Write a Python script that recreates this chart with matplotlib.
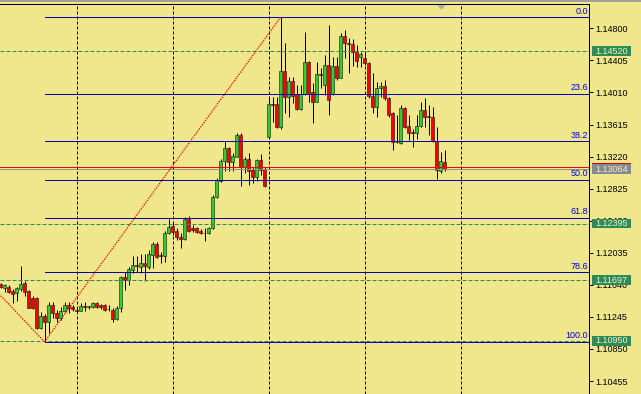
import matplotlib
matplotlib.use("Agg")
import matplotlib.pyplot as plt
import matplotlib.transforms as mtransforms
from matplotlib.patches import Rectangle

plt.rcParams['font.family'] = ['Liberation Sans', 'DejaVu Sans']

# hourly candles (index 0 = leftmost bar)
opens = [1.11656, 1.11597, 1.11617, 1.11567, 1.11535, 1.11588, 1.11658, 1.11564, 1.11474, 1.11474,
         1.11114, 1.11256, 1.11182, 1.11391, 1.11296, 1.11235, 1.11317, 1.11391, 1.11370, 1.11330,
         1.11321, 1.11373, 1.11370, 1.11363, 1.11412, 1.11387, 1.11391, 1.11342, 1.11330, 1.11219,
         1.11358, 1.11732, 1.11695, 1.11822, 1.11880, 1.11863, 1.11905, 1.11859, 1.12007, 1.12143,
         1.12003, 1.11995, 1.12274, 1.12364, 1.12306, 1.12233, 1.12201, 1.12447, 1.12336, 1.12336,
         1.12303, 1.12284, 1.12274, 1.12336, 1.12718, 1.12923, 1.13165, 1.13322, 1.13149, 1.13218,
         1.13485, 1.13095, 1.13186, 1.13054, 1.12972, 1.13178, 1.13063, 1.13465, 1.13864, 1.13867,
         1.13588, 1.14274, 1.13957, 1.14151, 1.13991, 1.13802, 1.13991, 1.14381, 1.14012, 1.13896,
         1.14233, 1.14102, 1.14348, 1.13991, 1.14336, 1.14191, 1.14705, 1.14623, 1.14607, 1.14520,
         1.14443, 1.14430, 1.14369, 1.13970, 1.13834, 1.14061, 1.14089, 1.13938, 1.13753, 1.13403,
         1.13391, 1.13814, 1.13596, 1.13526, 1.13514, 1.13596, 1.13794, 1.13720, 1.13704, 1.13412,
         1.13046, 1.13149]
highs = [1.11668, 1.11650, 1.11638, 1.11588, 1.11613, 1.11872, 1.11687, 1.11576, 1.11502, 1.11490,
         1.11305, 1.11280, 1.11428, 1.11428, 1.11330, 1.11370, 1.11428, 1.11428, 1.11391, 1.11350,
         1.11412, 1.11424, 1.11385, 1.11432, 1.11432, 1.11403, 1.11407, 1.11391, 1.11350, 1.11379,
         1.11748, 1.11798, 1.11863, 1.11995, 1.11995, 1.12019, 1.12019, 1.12069, 1.12171, 1.12171,
         1.12048, 1.12306, 1.12447, 1.12398, 1.12336, 1.12274, 1.12479, 1.12488, 1.12377, 1.12356,
         1.12324, 1.12336, 1.12356, 1.12746, 1.12952, 1.13186, 1.13415, 1.13341, 1.13267, 1.13506,
         1.13506, 1.13218, 1.13267, 1.13095, 1.13186, 1.13251, 1.13095, 1.13957, 1.13954, 1.13950,
         1.14936, 1.14615, 1.14204, 1.14204, 1.14102, 1.14102, 1.14754, 1.14397, 1.14122, 1.14389,
         1.14307, 1.14471, 1.14841, 1.14446, 1.14446, 1.14738, 1.14779, 1.14677, 1.14665, 1.14594,
         1.14512, 1.14492, 1.14385, 1.14246, 1.14142, 1.14142, 1.14163, 1.13954, 1.13769, 1.13732,
         1.13855, 1.13834, 1.13732, 1.13556, 1.13732, 1.13896, 1.13945, 1.13855, 1.13834, 1.13588,
         1.13280, 1.13301]
lows = [1.11601, 1.11551, 1.11539, 1.11419, 1.11440, 1.11564, 1.11506, 1.11354, 1.11348, 1.11095,
        1.11095, 1.10938, 1.11046, 1.11231, 1.11185, 1.11206, 1.11301, 1.11296, 1.11317, 1.11305,
        1.11317, 1.11321, 1.11342, 1.11350, 1.11350, 1.11342, 1.11321, 1.11317, 1.11185, 1.11206,
        1.11309, 1.11576, 1.11638, 1.11785, 1.11798, 1.11789, 1.11687, 1.11831, 1.11847, 1.11966,
        1.11912, 1.11925, 1.12266, 1.12254, 1.12192, 1.12097, 1.12192, 1.12294, 1.12290, 1.12282,
        1.12266, 1.12183, 1.12266, 1.12324, 1.12709, 1.12910, 1.13046, 1.13046, 1.13046, 1.13211,
        1.12857, 1.13014, 1.12870, 1.12898, 1.12923, 1.12993, 1.12849, 1.13457, 1.13649, 1.13568,
        1.13556, 1.13753, 1.13707, 1.13876, 1.13794, 1.13794, 1.13978, 1.13888, 1.13637, 1.13888,
        1.14061, 1.13978, 1.13732, 1.13978, 1.14163, 1.14184, 1.14430, 1.14253, 1.14336, 1.14327,
        1.14327, 1.14348, 1.13938, 1.13753, 1.13704, 1.13957, 1.13917, 1.13711, 1.13301, 1.13383,
        1.13375, 1.13568, 1.13424, 1.13341, 1.13436, 1.13588, 1.13588, 1.13485, 1.13403, 1.12940,
        1.13021, 1.13046]
closes = [1.11613, 1.11638, 1.11555, 1.11523, 1.11597, 1.11650, 1.11555, 1.11358, 1.11358, 1.11111,
          1.11256, 1.11176, 1.11391, 1.11289, 1.11235, 1.11317, 1.11391, 1.11350, 1.11342, 1.11323,
          1.11379, 1.11370, 1.11375, 1.11412, 1.11370, 1.11370, 1.11330, 1.11348, 1.11219, 1.11358,
          1.11732, 1.11695, 1.11831, 1.11884, 1.11872, 1.11912, 1.11872, 1.12019, 1.12143, 1.11986,
          1.11991, 1.12282, 1.12356, 1.12294, 1.12225, 1.12201, 1.12447, 1.12306, 1.12311, 1.12294,
          1.12274, 1.12278, 1.12336, 1.12725, 1.12931, 1.13165, 1.13322, 1.13157, 1.13227, 1.13485,
          1.13095, 1.13186, 1.13046, 1.12972, 1.13178, 1.13054, 1.12857, 1.13864, 1.13855, 1.13588,
          1.14274, 1.13957, 1.14151, 1.13970, 1.13802, 1.13991, 1.14381, 1.13991, 1.13896, 1.14237,
          1.14225, 1.14348, 1.13917, 1.14336, 1.14188, 1.14705, 1.14615, 1.14603, 1.14504, 1.14401,
          1.14483, 1.14369, 1.13970, 1.13834, 1.14061, 1.14089, 1.13938, 1.13732, 1.13403, 1.13396,
          1.13814, 1.13588, 1.13506, 1.13506, 1.13596, 1.13794, 1.13711, 1.13711, 1.13412, 1.13054,
          1.13165, 1.13064]

# fibonacci retracement anchored low (bar 11) -> high (bar 70)
fib_low_bar, fib_high_bar = 11, 70
fib_low, fib_high = 1.10938, 1.14936
fib_ratios = [0.0, 23.6, 38.2, 50.0, 61.8, 78.6, 100.0]
prev_trend = ([-1, 11], [1.11560, 1.10938])

level_lines = [1.14520, 1.12395, 1.11697, 1.10950]
bid, ask = 1.13064, 1.13088
day_starts = [19, 43, 67, 91, 115]
shift_bar = 110.1

y_ticks = [1.14800, 1.14405, 1.14010, 1.13615, 1.13220, 1.12825,
           1.12430, 1.12035, 1.11640, 1.11245, 1.10850, 1.10455]

BG = '#F0E68C'
BULL = '#32CD32'
BEAR = '#FF0000'
FIB = '#0000B4'
LEVEL = '#2E8B57'
PX = 0.72  # one pixel in points at dpi 100

W, H = 641, 394
fig = plt.figure(figsize=(W / 100, H / 100), dpi=100, facecolor=BG)
ax = fig.add_axes([0, 0, 589 / W, (H - 4.3) / H])
ax.set_facecolor(BG)
ax.set_xlim(-0.125, 147.125)
ax.set_ylim(1.10295, 1.15096)
px_price = (1.15096 - 1.10295) / (H - 4.3)

# thin grey strip at the very top of the window
fig.patches.append(Rectangle((0, 1 - 1.7 / H), 1, 1.7 / H, transform=fig.transFigure,
                             facecolor='#A0A0A0', edgecolor='none'))

for s in ['left', 'bottom']:
    ax.spines[s].set_visible(False)
for s in ['top', 'right']:
    ax.spines[s].set_color('black')
    ax.spines[s].set_linewidth(PX)

ax.set_xticks([])
ax.yaxis.tick_right()
ax.set_yticks(y_ticks)
ax.set_yticklabels(['%.5f' % v for v in y_ticks])
ax.tick_params(axis='y', direction='out', length=4 * PX, width=PX, pad=2 * PX,
               labelsize=6.5, colors='black')

# day separators
for d in day_starts:
    ax.axvline(d, color='black', lw=PX, linestyle=(0, (3, 2)), zorder=1)

# candles
xs = range(len(opens))
for i, o, h, l, c in zip(xs, opens, highs, lows, closes):
    ax.plot([i, i], [l, h], color='black', lw=PX, zorder=3, solid_capstyle='butt')
    color = BULL if c > o else BEAR
    ax.bar(i, abs(c - o), bottom=min(o, c), width=0.62, facecolor=color,
           edgecolor='black', linewidth=0.5 * PX, zorder=4)

# horizontal price levels
for lv in level_lines:
    ax.axhline(lv, color=LEVEL, lw=PX, linestyle=(0, (4, 2)), zorder=5, snap=True)
ax.axhline(bid, color='#909090', lw=PX, zorder=5, snap=True)
ax.axhline(ask, color='red', lw=PX, zorder=5, snap=True)

# fibonacci
ax.plot([fib_low_bar, fib_high_bar], [fib_low, fib_high], color='red', lw=1.3 * PX,
        linestyle=(0, (1, 1)), zorder=5)
ax.plot(prev_trend[0], prev_trend[1], color='red', lw=1.3 * PX, linestyle=(0, (1, 1)), zorder=5)
trans = mtransforms.blended_transform_factory(ax.transAxes, ax.transData)
for r in fib_ratios:
    lv = fib_high - r / 100 * (fib_high - fib_low)
    ax.plot([fib_low_bar, 200], [lv, lv], color=FIB, lw=PX, zorder=5, snap=True)
    ax.annotate('%.1f' % r, xy=(588 / 589, lv), xycoords=trans, xytext=(0, 2.6),
                textcoords='offset points', ha='right', va='baseline',
                fontsize=6.5, color='#0000E6', zorder=6)

# price labels on the scale
def price_label(price, face, z, show_text=True):
    h = 9.5 * px_price
    ax.add_patch(Rectangle((591.7 / 589, price - h / 2), 39 / 589, h, transform=trans,
                           facecolor=face, edgecolor='none', clip_on=False, zorder=z))
    if show_text:
        ax.text(611.2 / 589, price, '%.5f' % price, transform=trans, ha='center', va='center',
                fontsize=6.5, color='#F6F0C0', clip_on=False, zorder=z + 0.5)

for lv in level_lines:
    price_label(lv, LEVEL, 7)
price_label(ask, '#E00000', 7, show_text=False)  # ask tag sits under the bid tag
price_label(bid, '#848A92', 8)

# chart shift marker
tri = [(-1, 0.56), (1, 0.56), (0, -0.56)]
ax.plot([shift_bar], [0.993], marker=tri, markersize=8 * PX, color='#A8A8A8',
        markeredgewidth=0, transform=mtransforms.blended_transform_factory(ax.transData, ax.transAxes),
        clip_on=False, zorder=9)

fig.savefig('out.png', dpi=100, facecolor=BG)
